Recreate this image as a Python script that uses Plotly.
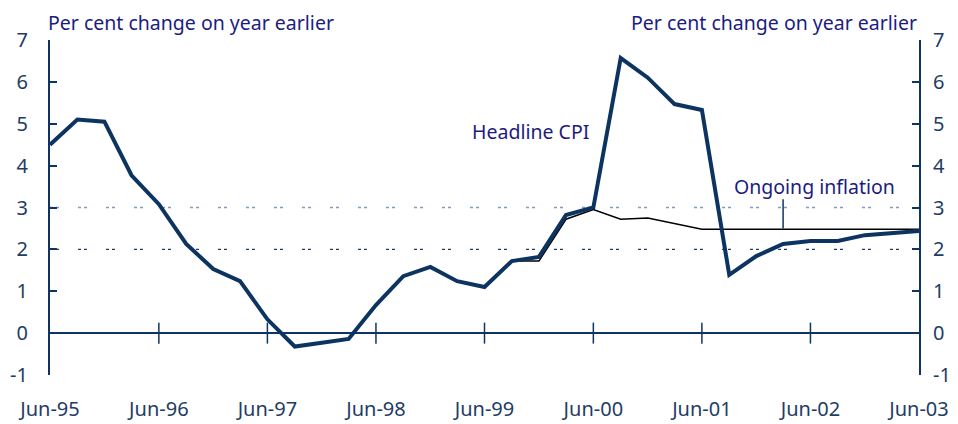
import plotly.graph_objects as go

quarters = [
    "1995-06-01", "1995-09-01", "1995-12-01", "1996-03-01",
    "1996-06-01", "1996-09-01", "1996-12-01", "1997-03-01",
    "1997-06-01", "1997-09-01", "1997-12-01", "1998-03-01",
    "1998-06-01", "1998-09-01", "1998-12-01", "1999-03-01",
    "1999-06-01", "1999-09-01", "1999-12-01", "2000-03-01",
    "2000-06-01", "2000-09-01", "2000-12-01", "2001-03-01",
    "2001-06-01", "2001-09-01", "2001-12-01", "2002-03-01",
    "2002-06-01", "2002-09-01", "2002-12-01", "2003-03-01",
    "2003-06-01",
]

headline_cpi = [
    4.5, 5.1, 5.05, 3.77,
    3.08, 2.13, 1.53, 1.24,
    0.33, -0.32, -0.23, -0.14,
    0.67, 1.36, 1.58, 1.24,
    1.1, 1.72, 1.82, 2.82,
    3.0, 6.57, 6.1, 5.47,
    5.33, 1.39, 1.84, 2.13,
    2.2, 2.2, 2.34, 2.39,
    2.44,
]

ongoing_quarters = quarters[16:]
ongoing_inflation = [
    1.1, 1.72, 1.72, 2.72,
    2.95, 2.72, 2.75, 2.62,
    2.48, 2.48, 2.48, 2.48,
    2.48, 2.48, 2.48, 2.48,
    2.48,
]

year_ticks = ["1995-06-01", "1996-06-01", "1997-06-01", "1998-06-01",
              "1999-06-01", "2000-06-01", "2001-06-01", "2002-06-01",
              "2003-06-01"]
year_labels = ["Jun-95", "Jun-96", "Jun-97", "Jun-98", "Jun-99",
               "Jun-00", "Jun-01", "Jun-02", "Jun-03"]
inner_ticks = year_ticks[1:-1]

y_ticks = [-1, 0, 1, 2, 3, 4, 5, 6, 7]
y_labels = ["-1", "0", "1", "2", "3", "4", "5", "6", "7"]

LINE = "#0d3461"
AXIS = "#0f3462"
TICKTXT = "#1f3c64"
TEXT = "#1c1c80"
FONT = "Noto Sans"

fig = go.Figure()

fig.add_trace(go.Scatter(
    x=ongoing_quarters, y=ongoing_inflation, mode="lines",
    line=dict(color="#000000", width=1.5), showlegend=False, hoverinfo="skip"))
fig.add_trace(go.Scatter(
    x=quarters, y=headline_cpi, mode="lines",
    line=dict(color=LINE, width=4), showlegend=False))
# crossing tick marks on the zero line
fig.add_trace(go.Scatter(
    x=inner_ticks, y=[0] * len(inner_ticks), mode="markers",
    marker=dict(symbol="line-ns", size=15, line=dict(color=AXIS, width=1.5)),
    showlegend=False, hoverinfo="skip"))
# invisible trace on right axis so it renders
fig.add_trace(go.Scatter(x=[quarters[0]], y=[0], yaxis="y2", mode="markers",
                         marker=dict(opacity=0), showlegend=False, hoverinfo="skip"))

# dashed reference lines
for val, col in [(3, "#7f9cc0"), (2, "#1f3c64")]:
    fig.add_shape(type="line", xref="paper", x0=0, x1=1, yref="y", y0=val, y1=val,
                  line=dict(color=col, width=1.4, dash="3px,3px,3px,19px"), layer="below")

# leader line for ongoing inflation label
fig.add_shape(type="line", xref="x", yref="y", x0="2002-03-01", x1="2002-03-01",
              y0=2.5, y1=3.2, line=dict(color=AXIS, width=1.5))

yax = dict(range=[-1, 7], tickvals=y_ticks, ticktext=y_labels, showgrid=False,
           showline=True, linecolor=AXIS,
           linewidth=2, ticks="inside", ticklen=7, tickwidth=1.5, tickcolor=AXIS,
           tickfont=dict(family=FONT, size=20, color=TICKTXT), fixedrange=True,
           automargin=False)

fig.update_layout(
    width=958, height=424,
    margin=dict(l=50, r=39, t=40, b=49, autoexpand=False),
    paper_bgcolor="white", plot_bgcolor="white",
    font=dict(family=FONT, color=TEXT),
    xaxis=dict(range=["1995-06-01", "2003-06-01"], tickvals=year_ticks,
               ticktext=year_labels, showgrid=False, showline=False, ticks="",
               zeroline=False, ticklabelstandoff=20, automargin=False,
               tickfont=dict(family=FONT, size=20, color=TICKTXT)),
    yaxis=dict(**yax, zeroline=True, zerolinecolor=AXIS, zerolinewidth=1.5,
               ticklabelstandoff=16),
    yaxis2=dict(**yax, overlaying="y", side="right", zeroline=False,
                ticklabelstandoff=8),
    annotations=[
        dict(text="Per cent change on year earlier", xref="paper", yref="paper",
             x=0, y=1, xanchor="left", yanchor="bottom", xshift=-4, yshift=2,
             showarrow=False, font=dict(size=19.5, color=TEXT, family=FONT)),
        dict(text="Per cent change on year earlier", xref="paper", yref="paper",
             x=1, y=1, xanchor="right", yanchor="bottom", yshift=2,
             showarrow=False, font=dict(size=19.5, color=TEXT, family=FONT)),
        dict(text="Headline CPI", xref="paper", yref="paper", x=0.553, y=0.728,
             xanchor="center", yanchor="middle",
             showarrow=False, font=dict(size=19.5, color=TEXT, family=FONT)),
        dict(text="Ongoing inflation", xref="paper", yref="paper", x=0.880, y=0.564,
             xanchor="center", yanchor="middle",
             showarrow=False, font=dict(size=19.5, color=TEXT, family=FONT)),
    ],
)

fig.write_html("out.html", config={"displayModeBar": False},
               post_script="document.body.style.margin='0';document.body.style.overflow='hidden';")
